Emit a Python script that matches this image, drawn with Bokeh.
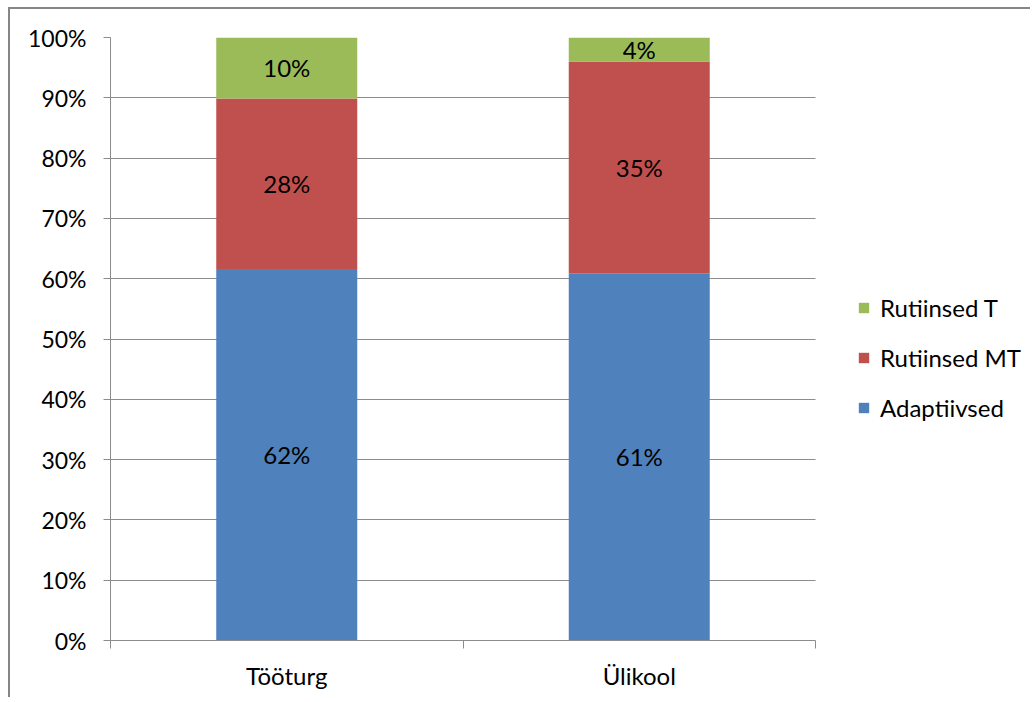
from bokeh.plotting import figure
from bokeh.models import (FixedTicker, NumeralTickFormatter, ColumnDataSource,
                          Legend, LegendItem, Range1d)
from bokeh.core.properties import value
from bokeh.embed import file_html
from bokeh.resources import INLINE

categories = ["Tööturg", "Ülikool"]
series = ["Adaptiivsed", "Rutiinsed MT", "Rutiinsed T"]
adaptiivsed = [61.6, 60.9]
rutiinsed_mt = [28.3, 35.1]
rutiinsed_t = [10.1, 4.0]
colors = ["#4F81BD", "#C0504D", "#9BBB59"]
y_ticks = [0, 10, 20, 30, 40, 50, 60, 70, 80, 90, 100]

FONT = "Lato"
FS = "24px"
FS_Y = "23px"
GRID = "#8C8C8C"

W, H = 1022, 690
LEFT, TOP, BOTTOM, RIGHT = 100, 28, 59, 2
FRAME_W = W - LEFT - RIGHT
PLOT_W = 705  # pixel width of the category area

n = len(categories)
xs = [i + 0.5 for i in range(n)]
data = {"x": xs}
for name, vals in zip(series, [adaptiivsed, rutiinsed_mt, rutiinsed_t]):
    data[name] = [v / 100 for v in vals]
src = ColumnDataSource(data)

p = figure(width=W, height=H, output_backend="svg", toolbar_location=None,
           x_range=Range1d(0, n * FRAME_W / PLOT_W), y_range=Range1d(0, 1),
           min_border_left=LEFT, min_border_right=RIGHT, min_border_top=TOP,
           min_border_bottom=BOTTOM)
p.styles = {"margin-left": "8px", "margin-top": "7px",
            "border-left": "2px solid #868686", "border-top": "2px solid #868686"}
p.outline_line_color = None
p.background_fill_color = "white"
p.border_fill_color = "white"

rs = p.vbar_stack(series, x="x", width=0.4, color=colors, source=src, line_color=None)

# labels
lx, ly, lt = [], [], []
for i in range(n):
    base = 0.0
    for vals in [adaptiivsed, rutiinsed_mt, rutiinsed_t]:
        v = vals[i]
        lx.append(xs[i])
        ly.append((base + v / 2) / 100)
        lt.append(f"{round(v):.0f}%")
        base += v
lab = ColumnDataSource(dict(x=lx, y=ly, t=lt))
p.text(x="x", y="y", text="t", source=lab, text_align="center", text_baseline="middle",
       text_font=value(FONT), text_font_size=FS, text_color="#000000")

# y axis
p.yaxis.ticker = FixedTicker(ticks=[t / 100 for t in y_ticks])
p.yaxis.formatter = NumeralTickFormatter(format="0%")
p.yaxis.major_tick_in = 0
p.yaxis.major_tick_out = 7
p.yaxis.minor_tick_line_color = None
p.yaxis.axis_line_color = GRID
p.yaxis.major_tick_line_color = GRID
p.yaxis.major_label_text_font = FONT
p.yaxis.major_label_text_font_size = FS_Y
p.yaxis.major_label_text_color = "#000000"
p.yaxis.major_label_standoff = 17

# x axis
p.xaxis.ticker = FixedTicker(ticks=xs, minor_ticks=list(range(n + 1)))
p.xaxis.major_label_overrides = {x: c for x, c in zip(xs, categories)}
p.xaxis.bounds = (0, n)
p.xaxis.major_tick_line_color = None
p.xaxis.minor_tick_line_color = GRID
p.xaxis.minor_tick_in = 0
p.xaxis.minor_tick_out = 8
p.xaxis.axis_line_color = GRID
p.xaxis.major_label_text_font = FONT
p.xaxis.major_label_text_font_size = FS
p.xaxis.major_label_text_color = "#000000"
p.xaxis.major_label_standoff = 12

p.xgrid.grid_line_color = None
p.ygrid.grid_line_color = GRID
p.ygrid.grid_line_width = 1
p.ygrid.cross_bounds = (0, n)

items = [LegendItem(label=s, renderers=[r]) for s, r in zip(series, rs)][::-1]
legend = Legend(items=items, location=(747, 218), orientation="vertical",
                glyph_width=13, glyph_height=13, label_standoff=10, spacing=21,
                label_text_font=FONT, label_text_font_size=FS, label_text_color="#000000",
                border_line_color=None, background_fill_alpha=0, padding=0, margin=0)
p.add_layout(legend, "center")

open("out.html", "w").write(file_html(p, INLINE))
